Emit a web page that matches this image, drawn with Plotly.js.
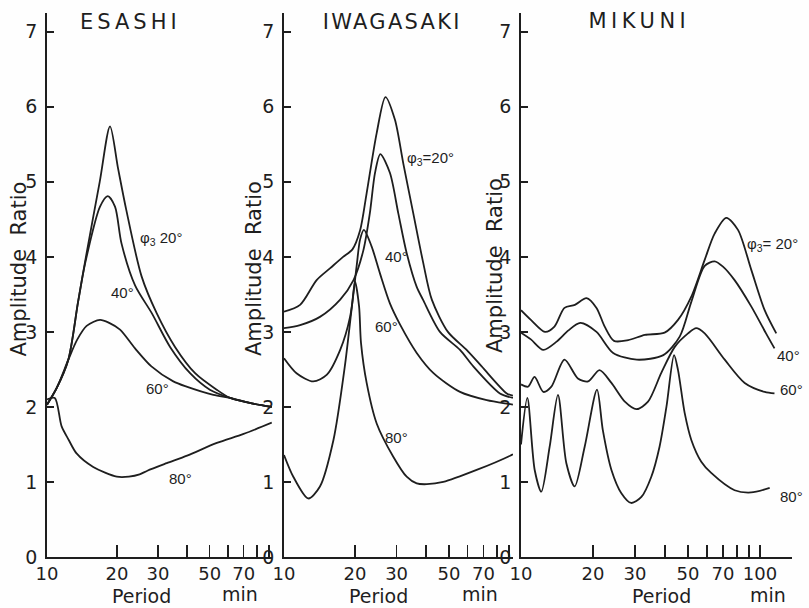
<!DOCTYPE html>
<html>
<head>
<meta charset="utf-8">
<script src="https://cdn.plot.ly/plotly-3.0.1.min.js"></script>
<style>html,body{margin:0;padding:0;background:#fefefe;}</style>
</head>
<body>
<div id="chart" style="width:809px;height:608px;"></div>
<script>
// ---- data: period (min) and amplitude ratio ----
const panelTitles = ['ESASHI', 'IWAGASAKI', 'MIKUNI'];
const yTicks = [0, 1, 2, 3, 4, 5, 6, 7];
const xTicksA = [10, 20, 30, 50, 70];
const xMinorA = [40, 60, 80, 90];
const xTicksC = [10, 20, 30, 50, 70, 100];
const xMinorC = [40, 60, 80, 90];

// ESASHI
const e20x = [10, 11.0, 12.35, 13.6, 14.7, 16.85, 18.66, 20.2, 21.9, 25.5, 29.6, 35.5, 43.3, 53.6, 61.2, 75, 92.5];
const e20y = [2.03, 2.25, 2.63, 3.4, 4.0, 5.0, 5.74, 5.18, 4.63, 3.74, 3.25, 2.80, 2.45, 2.23, 2.12, 2.05, 2.0];
const e40x = [10, 11.0, 12.35, 13.6, 14.6, 16.9, 18.24, 19.6, 20.9, 23.9, 28.2, 33.8, 41.2, 50.1, 61.2, 75, 92.5];
const e40y = [2.03, 2.25, 2.63, 3.4, 3.92, 4.67, 4.81, 4.67, 4.18, 3.62, 3.25, 2.80, 2.45, 2.23, 2.12, 2.05, 2.0];
const e60x = [10, 11.0, 12.35, 13.5, 14.8, 16.9, 18.5, 20.6, 23.9, 28.1, 34.9, 39.8, 51.9, 61.2, 75, 92.5];
const e60y = [2.03, 2.25, 2.63, 2.9, 3.08, 3.16, 3.12, 3.03, 2.78, 2.54, 2.34, 2.27, 2.16, 2.12, 2.05, 2.0];
const e80x = [10, 10.8, 11.56, 12.4, 13.4, 15.8, 19.95, 22.5, 25, 27, 32.7, 40, 53.7, 70, 92.5];
const e80y = [2.1, 2.12, 1.74, 1.56, 1.38, 1.2, 1.07, 1.07, 1.1, 1.15, 1.25, 1.35, 1.52, 1.64, 1.79];

// IWAGASAKI
const i20x = [10, 11.7, 13.75, 15.7, 17.8, 19.5, 21.0, 22.4, 24.7, 26.9, 29.5, 32.0, 35.3, 38.9, 42.3, 49.5, 59.4, 68.8, 87.9, 93.3];
const i20y = [3.27, 3.36, 3.69, 3.85, 4.0, 4.1, 4.35, 4.85, 5.65, 6.13, 5.83, 5.25, 4.58, 3.92, 3.43, 3.0, 2.76, 2.54, 2.18, 2.15];
const i40x = [10, 11.7, 14.2, 17.3, 19.7, 21.7, 23.1, 24.3, 25.6, 28.1, 30.5, 33.1, 36.5, 38.8, 45.8, 55.7, 63.4, 82.2, 93.3];
const i40y = [3.05, 3.09, 3.2, 3.43, 3.69, 4.09, 4.58, 5.12, 5.37, 5.12, 4.58, 4.05, 3.6, 3.43, 3.0, 2.76, 2.54, 2.18, 2.12];
const i60x = [10, 11.3, 13.3, 15.2, 17.3, 19.05, 20.3, 21.0, 21.8, 23.5, 25.5, 28.1, 31, 36.5, 43, 55.7, 72.3, 89.1, 93.3];
const i60y = [2.65, 2.45, 2.34, 2.43, 2.76, 3.2, 3.87, 4.23, 4.36, 4.14, 3.78, 3.38, 3.1, 2.72, 2.45, 2.2, 2.09, 2.04, 2.03];
const i80x = [10, 10.95, 12.67, 14.2, 16.2, 18.1, 19.4, 20.0, 20.8, 21.2, 22.4, 24.7, 29.0, 33.1, 36.5, 40.3, 47.3, 65.5, 90.8, 93.3];
const i80y = [1.36, 1.07, 0.78, 0.94, 1.56, 2.54, 3.34, 3.67, 3.34, 2.85, 2.32, 1.78, 1.34, 1.07, 0.98, 0.97, 1.0, 1.16, 1.35, 1.37];

// MIKUNI
const m20x = [10, 11.0, 12.6, 13.8, 15.2, 16.8, 18.8, 20.7, 22.4, 24.5, 28.1, 33.0, 39.9, 45.4, 51.6, 58.7, 64.6, 72.3, 80.9, 91.9, 104.6, 117];
const m20y = [3.29, 3.16, 3.0, 3.07, 3.32, 3.36, 3.45, 3.32, 3.07, 2.88, 2.89, 2.96, 2.99, 3.16, 3.47, 3.96, 4.31, 4.52, 4.36, 3.83, 3.29, 2.98];
const m40x = [10, 11.0, 12.4, 14.1, 15.8, 17.7, 20.7, 24.3, 30.5, 39.4, 46.2, 51.6, 58.7, 64.6, 70, 78.3, 91.9, 106, 115];
const m40y = [2.99, 2.9, 2.76, 2.87, 3.02, 3.12, 3.0, 2.72, 2.63, 2.69, 2.94, 3.4, 3.88, 3.94, 3.87, 3.69, 3.34, 2.98, 2.78];
const m60x = [10, 10.7, 11.4, 12.4, 13.4, 15.2, 17.3, 19.1, 21.3, 23.9, 27.2, 30.4, 34.0, 38.6, 44.0, 50, 54.1, 58.7, 71.2, 86.3, 104.7, 115];
const m60y = [2.3, 2.27, 2.4, 2.2, 2.27, 2.63, 2.38, 2.34, 2.49, 2.32, 2.07, 1.97, 2.07, 2.45, 2.8, 2.98, 3.05, 2.98, 2.63, 2.32, 2.2, 2.18];
const m80x = [10, 10.63, 11.41, 12.16, 13.18, 14.28, 15.48, 16.77, 18.47, 20.8, 22.0, 23.9, 26.3, 28.9, 31.9, 35.1, 38.0, 40.6, 43.7, 45.4, 48.4, 51.6, 56.8, 62.5, 78.3, 91.9, 109.8];
const m80y = [1.5, 2.12, 1.16, 0.87, 1.47, 2.16, 1.25, 0.94, 1.47, 2.23, 1.69, 1.16, 0.85, 0.72, 0.80, 1.07, 1.47, 2.0, 2.69, 2.49, 1.92, 1.56, 1.27, 1.12, 0.89, 0.86, 0.92];

// curve labels
const labelsA = ['φ<sub>3</sub> 20°', '40°', '60°', '80°'];
const labelsB = ['φ<sub>3</sub>=20°', '40°', '60°', '80°'];
const labelsC = ['φ<sub>3</sub>= 20°', '40°', '60°', '80°'];

// ---- drawing ----
const INK = '#1e1e1e';
function curve(x, y, xa, ya) {
  return {x: x, y: y, xaxis: xa, yaxis: ya, type: 'scatter', mode: 'lines',
    line: {color: INK, width: 1.8, shape: 'spline', smoothing: 0.8}, hoverinfo: 'skip'};
}
const data = [
  curve(e20x, e20y, 'x', 'y'), curve(e40x, e40y, 'x', 'y'), curve(e60x, e60y, 'x', 'y'), curve(e80x, e80y, 'x', 'y'),
  curve(i20x, i20y, 'x2', 'y2'), curve(i40x, i40y, 'x2', 'y2'), curve(i60x, i60y, 'x2', 'y2'), curve(i80x, i80y, 'x2', 'y2'),
  curve(m20x, m20y, 'x3', 'y3'), curve(m40x, m40y, 'x3', 'y3'), curve(m60x, m60y, 'x3', 'y3'), curve(m80x, m80y, 'x3', 'y3')
];

const W = 809, H = 608;
const yDom = [51 / H, 595 / H];
function xax(d0, d1, range, vals, minorVals, anchor) {
  return {type: 'log', domain: [d0 / W, d1 / W], range: range, tickmode: 'array', tickvals: vals,
    ticktext: vals.map(String),
    ticks: 'inside', ticklen: 12, tickwidth: 1.6, tickcolor: INK, showline: true, linecolor: INK, linewidth: 1.8,
    minor: {tickmode: 'array', tickvals: minorVals, ticks: 'inside', ticklen: 12, tickwidth: 1.6, tickcolor: INK, showgrid: false},
    showgrid: false, zeroline: false, anchor: anchor, ticklabelstandoff: 0,
    tickfont: {family: 'DejaVu Sans', size: 18, color: INK}};
}
function yax(anchor) {
  return {domain: yDom, range: [0, 7.25], tickmode: 'array', tickvals: yTicks, ticks: 'inside', ticklen: 7, tickwidth: 1.6,
    tickcolor: INK, showline: true, linecolor: INK, linewidth: 1.8, showgrid: false, zeroline: false, anchor: anchor,
    ticklabelstandoff: 4, tickfont: {family: 'DejaVu Sans', size: 19, color: INK}};
}

function pAnn(text, px, py, size, extra) {
  return Object.assign({text: text, xref: 'paper', yref: 'paper', x: px / W, y: 1 - py / H, showarrow: false,
    xanchor: 'center', yanchor: 'middle', borderpad: 0, font: {family: 'DejaVu Sans', size: size, color: INK}}, extra || {});
}
function dAnn(text, period, val, xr, yr) {
  return {text: text, xref: xr, yref: yr, x: Math.log10(period), y: val, showarrow: false,
    xanchor: 'center', yanchor: 'middle', font: {family: 'Liberation Sans', size: 15, color: INK}};
}

const annotations = [
  pAnn(panelTitles[0], 130, 22.5, 21), pAnn(panelTitles[1], 392, 22.5, 21), pAnn(panelTitles[2], 639, 21, 21),
  pAnn('Amplitude&nbsp;&nbsp;Ratio', 18.5, 269, 21, {textangle: -90}),
  pAnn('Amplitude&nbsp;&nbsp;Ratio', 254, 269, 21, {textangle: -90}),
  pAnn('Amplitude&nbsp;&nbsp;Ratio', 495, 266, 21, {textangle: -90}),
  pAnn('Period', 141, 596, 19), pAnn('min', 240, 594, 19),
  pAnn('Period', 378, 596, 19), pAnn('min', 480, 594, 19),
  pAnn('Period', 661, 596, 19), pAnn('min', 768, 595, 19),
  dAnn(labelsA[0], 30.9, 4.25, 'x', 'y'), dAnn(labelsA[1], 21.2, 3.53, 'x', 'y'),
  dAnn(labelsA[2], 29.7, 2.25, 'x', 'y'), dAnn(labelsA[3], 37.3, 1.04, 'x', 'y'),
  dAnn(labelsB[0], 41.6, 5.31, 'x2', 'y2'), dAnn(labelsB[1], 30.1, 4.01, 'x2', 'y2'),
  dAnn(labelsB[2], 27.3, 3.07, 'x2', 'y2'), dAnn(labelsB[3], 30.1, 1.59, 'x2', 'y2'),
  dAnn(labelsC[0], 113, 4.16, 'x3', 'y3'), dAnn(labelsC[1], 132, 2.69, 'x3', 'y3'),
  dAnn(labelsC[2], 136, 2.23, 'x3', 'y3'), dAnn(labelsC[3], 136, 0.8, 'x3', 'y3')
];

const layout = {
  width: W, height: H, margin: {l: 0, r: 0, t: 0, b: 0, pad: 0},
  paper_bgcolor: '#fefefe', plot_bgcolor: 'rgba(0,0,0,0)', showlegend: false,
  font: {family: 'DejaVu Sans', size: 19, color: INK},
  xaxis: xax(47, 272, [1, 1.967], xTicksA, xMinorA, 'y'),
  xaxis2: xax(284, 513, [1, 1.9703], xTicksA, xMinorA, 'y2'),
  xaxis3: xax(521, 792, [1, 2.134], xTicksC, xMinorC, 'y3'),
  yaxis: yax('x'), yaxis2: yax('x2'), yaxis3: yax('x3'),
  annotations: annotations
};

Plotly.newPlot('chart', data, layout, {staticPlot: true, displayModeBar: false}).then(function (gd) {
  const spacing = ['4px', '2.3px', '4.5px'];
  const els = gd.querySelectorAll('.annotation-text');
  for (let i = 0; i < 3 && i < els.length; i++) { els[i].style.letterSpacing = spacing[i]; }
  // drop empty placeholder texts (unused axis titles)
  gd.querySelectorAll('text').forEach(function (t) { if (!t.textContent.trim()) t.remove(); });
});
</script>
</body>
</html>
